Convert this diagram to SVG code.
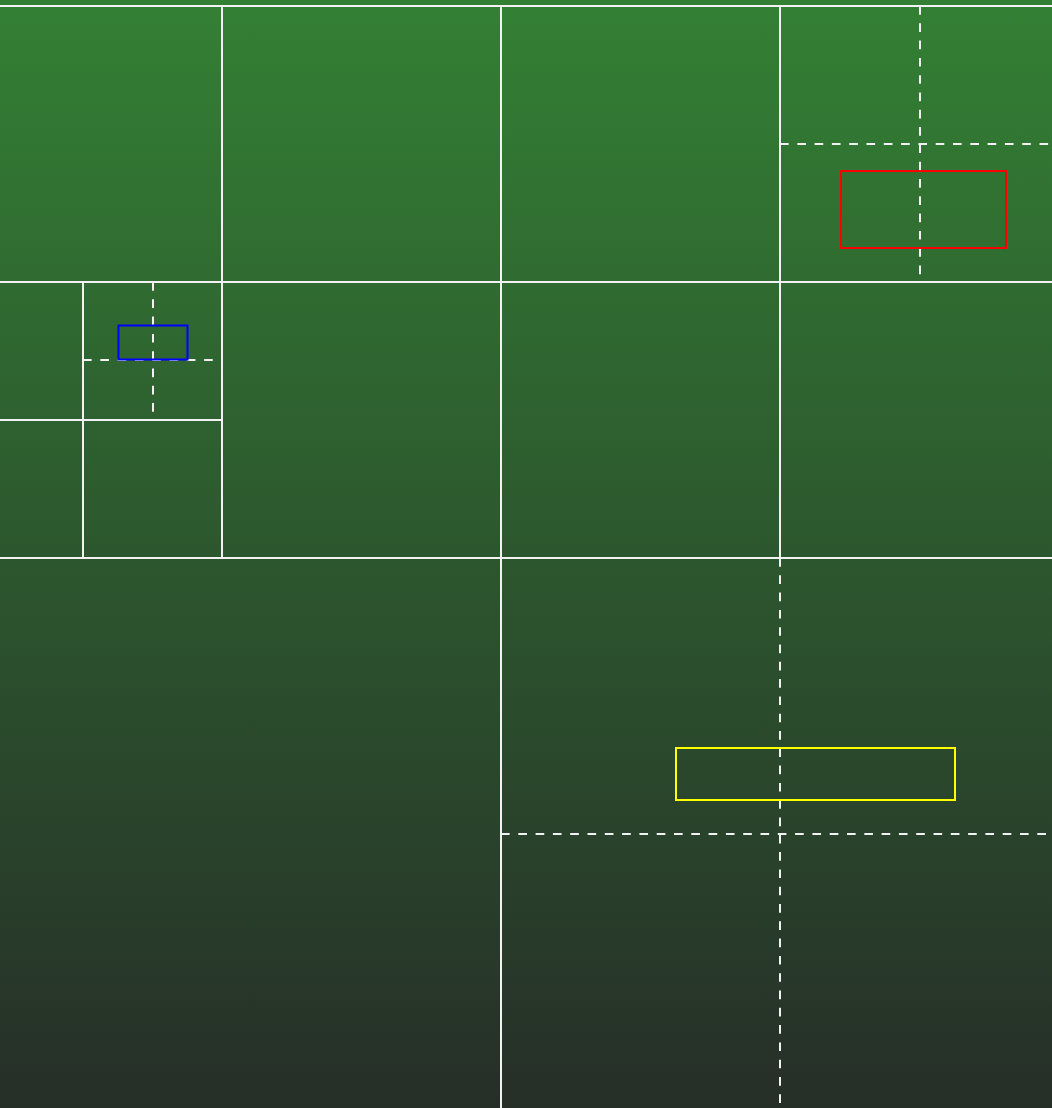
<svg xmlns="http://www.w3.org/2000/svg" width="1052" height="1108" viewBox="0 0 1052 1108">
  <defs>
    <linearGradient id="bg" x1="0" y1="0" x2="0" y2="1">
      <stop offset="0" stop-color="#338034"/>
      <stop offset="1" stop-color="#262e28"/>
    </linearGradient>
  </defs>
  <style>
    .solid { stroke: #f2f2f2; stroke-width: 2; fill: none; }
    .dash { stroke: #f2f2f2; stroke-width: 2; fill: none; stroke-dasharray: 8.65 8.65; }
    .box { fill: none; stroke-width: 2; }
  </style>
  <rect x="0" y="0" width="1052" height="1108" fill="url(#bg)"/>
  <g id="connectors">
    <line class="solid" x1="0" y1="6" x2="1052" y2="6"/>
    <line class="solid" x1="0" y1="282" x2="1052" y2="282"/>
    <line class="solid" x1="0" y1="558" x2="1052" y2="558"/>
    <line class="solid" x1="501" y1="6" x2="501" y2="1108"/>
    <line class="solid" x1="222" y1="6" x2="222" y2="558"/>
    <line class="solid" x1="780" y1="6" x2="780" y2="558"/>
    <line class="solid" x1="83" y1="282" x2="83" y2="558"/>
    <line class="solid" x1="0" y1="420" x2="222" y2="420"/>
    <line class="dash" x1="920" y1="6" x2="920" y2="282"/>
    <line class="dash" x1="780" y1="144" x2="1052" y2="144"/>
    <line class="dash" x1="153" y1="282" x2="153" y2="420"/>
    <line class="dash" x1="83" y1="360" x2="222" y2="360"/>
    <line class="dash" x1="780" y1="558" x2="780" y2="1108"/>
    <line class="dash" x1="501" y1="834" x2="1052" y2="834"/>
  </g>
  <g id="red-box"><rect class="box" stroke="#ff0000" x="841" y="171" width="165" height="77"/></g>
  <g id="blue-box"><rect class="box" stroke="#0000ff" x="118.5" y="325.5" width="69" height="34"/></g>
  <g id="yellow-box"><rect class="box" stroke="#ffff00" x="676" y="748" width="279" height="52"/></g>
</svg>
